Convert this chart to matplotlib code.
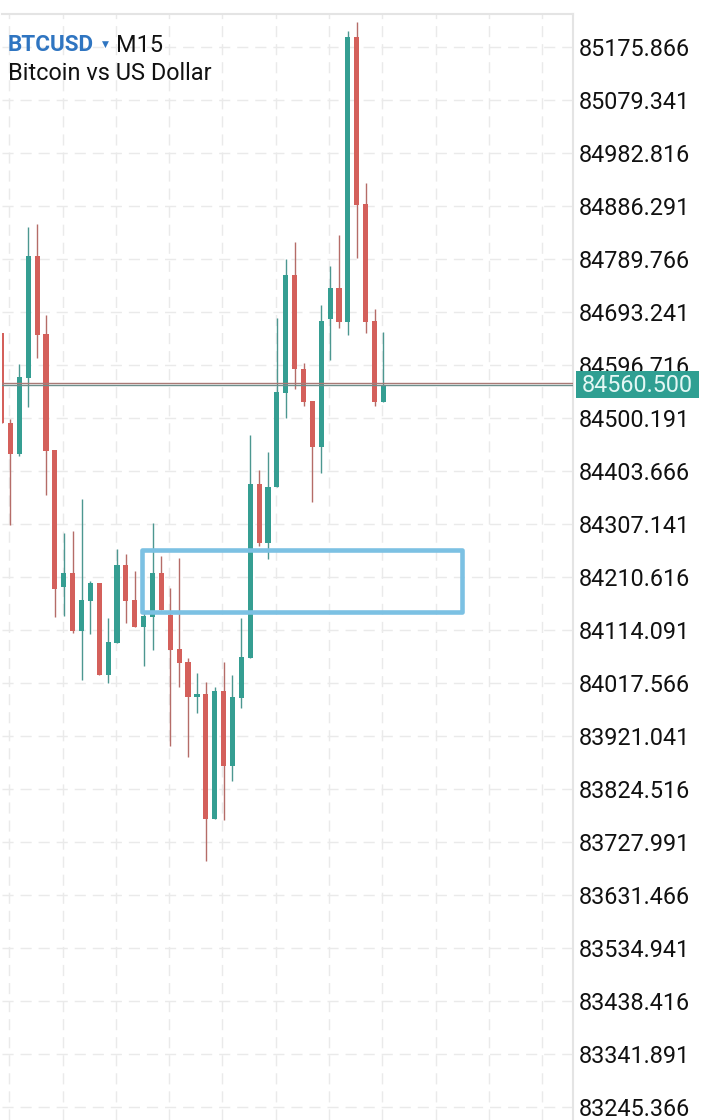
import numpy as np
import matplotlib
matplotlib.use("Agg")
import matplotlib.pyplot as plt
from matplotlib.patches import Rectangle

plt.rcParams['font.family'] = ['Roboto', 'DejaVu Sans']

opens = [84654.5, 84491.7, 84434.7, 84573.1, 84795.3, 84653.2, 84442.0, 84193.0, 84217.4, 84112.9, 84167.5,
         84199.2, 84032.7, 84091.0, 84232.0, 84168.2, 84120.1, 84138.4, 84217.4, 84141.5, 84079.0, 84055.3,
         83992.7, 83997.0, 83770.5, 84002.5, 83867.0, 83990.9, 84063.7, 84380.0, 84273.1, 84374.0, 84546.3,
         84760.7, 84588.9, 84530.6, 84448.0, 84681.1, 84737.0, 84675.1, 85193.6, 84890.0, 84676.4, 84529.9]
highs = [84654.5, 84497.9, 84598.6, 84848.6, 84853.6, 84687.8, 84442.0, 84290.2, 84293.9, 84352.2, 84203.4,
         84199.2, 84135.5, 84261.1, 84252.0, 84221.0, 84146.9, 84308.5, 84248.9, 84190.1, 84244.7, 84062.6,
         84035.3, 84018.9, 84010.9, 84056.4, 84031.6, 84135.5, 84469.3, 84405.5, 84437.8, 84681.8, 84789.3,
         84820.8, 84599.9, 84530.6, 84706.0, 84777.1, 84833.0, 85204.5, 85221.4, 84927.7, 84698.2, 84656.3]
lows = [84490.6, 84305.4, 84431.0, 84520.8, 84609.5, 84359.5, 84137.3, 84139.6, 84109.3, 84023.1, 84106.9,
        84032.7, 84018.2, 84091.0, 84127.4, 84120.1, 84049.1, 84077.7, 84150.6, 83902.9, 84010.9, 83883.4,
        83963.5, 83694.0, 83770.5, 83768.1, 83839.7, 83972.6, 84063.7, 84267.1, 84242.9, 84374.0, 84499.7,
        84552.5, 84522.6, 84347.8, 84399.5, 84605.9, 84664.7, 84651.4, 84791.1, 84655.6, 84522.6, 84529.9]
closes = [84490.6, 84434.7, 84575.5, 84795.3, 84651.9, 84440.7, 84188.3, 84217.4, 84112.9, 84168.8, 84199.2,
          84032.7, 84091.7, 84232.0, 84167.5, 84120.1, 84139.6, 84217.4, 84150.6, 84077.7, 84054.6, 83992.7,
          83997.6, 83770.5, 84002.5, 83867.0, 83991.6, 84064.4, 84380.0, 84272.0, 84374.0, 84547.6, 84760.7,
          84588.9, 84529.9, 84448.0, 84676.4, 84737.0, 84675.1, 85193.6, 84888.2, 84675.1, 84529.9, 84559.1]

price_ticks = [85175.866, 85079.341, 84982.816, 84886.291, 84789.766, 84693.241, 84596.716, 84500.191,
               84403.666, 84307.141, 84210.616, 84114.091, 84017.566, 83921.041, 83824.516, 83727.991,
               83631.466, 83534.941, 83438.416, 83341.891, 83245.366]
bid_price = 84560.5
ask_price = 84563.4
zone_start, zone_end = 15.81, 51.8
zone_low, zone_high = 84146.0, 84258.9

W, H = 707, 1120
UP = '#359E92'
DOWN = '#D4605B'
UP_WICK = '#4C9790'
DOWN_WICK = '#B56C68'
GRID = '#EAEAEA'
EDGE = '#E4E4E4'

fig = plt.figure(figsize=(W / 100, H / 100), dpi=100, facecolor='white')
ax = fig.add_axes([2 / W, 0, 571 / W, 1 - 14 / H])
ax.set_xlim(0.045, 64.35)
ax.set_ylim(83221.7, 85235.96)

x = np.arange(len(opens))
o, h, l, c = map(np.array, (opens, highs, lows, closes))
is_up = c >= o
wick_colors = [UP_WICK if u else DOWN_WICK for u in is_up]
body_colors = [UP if u else DOWN for u in is_up]
ax.vlines(x, l, h, colors=wick_colors, linewidth=1.0, zorder=3)
ax.bar(x, np.abs(c - o), bottom=np.minimum(o, c), width=0.58, color=body_colors, linewidth=0, zorder=4)

ax.axhline(ask_price, color='#A97A76', lw=1.0, zorder=5)
ax.axhline(bid_price, color='#6F8F8C', lw=1.0, zorder=5)

ax.add_patch(Rectangle((zone_start, zone_low), zone_end - zone_start, zone_high - zone_low,
                       fill=False, edgecolor='#7CC1E3', lw=3.3, joinstyle='round', zorder=6))

ax.set_yticks(price_ticks)
ax.set_yticklabels([f'{p:.3f}' for p in price_ticks])
ax.yaxis.tick_right()
ax.tick_params(axis='y', length=0, pad=4.3, labelsize=16.85, labelcolor='#111111')
ax.set_xticks(np.arange(0.87, 65, 6))
ax.tick_params(axis='x', length=0, labelbottom=False)
ax.grid(True, color=GRID, lw=1.0, linestyle=(0, (8, 5)), zorder=0)
ax.set_axisbelow(True)
for s in ('left', 'bottom'):
    ax.spines[s].set_visible(False)
for s in ('top', 'right'):
    ax.spines[s].set_color(EDGE)
    ax.spines[s].set_linewidth(1.5)


def fx(px):
    return px / W


def fy(py):
    return 1 - py / H


fig.add_artist(Rectangle((fx(576), fy(398)), 123 / W, 27.5 / H, transform=fig.transFigure,
                         facecolor='#2F9F92', edgecolor='none', zorder=10))
fig.text(fx(582), fy(385), f'{bid_price:.3f}', color='#E4F7F4', fontsize=16.85, va='center', ha='left', zorder=11)

fig.text(fx(8), fy(45), 'BTCUSD', color='#2F75C1', fontsize=16.2, fontweight='bold', va='center', ha='left', zorder=11)
fig.text(fx(105), fy(44), '\u25BC', color='#2F75C1', fontsize=6.5, va='center', ha='center',
         family='DejaVu Sans', zorder=11)
fig.text(fx(115.5), fy(45), 'M15', color='#111111', fontsize=16.9, va='center', ha='left', zorder=11)
fig.text(fx(8), fy(73), 'Bitcoin vs US Dollar', color='#111111', fontsize=16.9, va='center', ha='left', zorder=11)

fig.savefig('out.png', dpi=100, facecolor='white')
